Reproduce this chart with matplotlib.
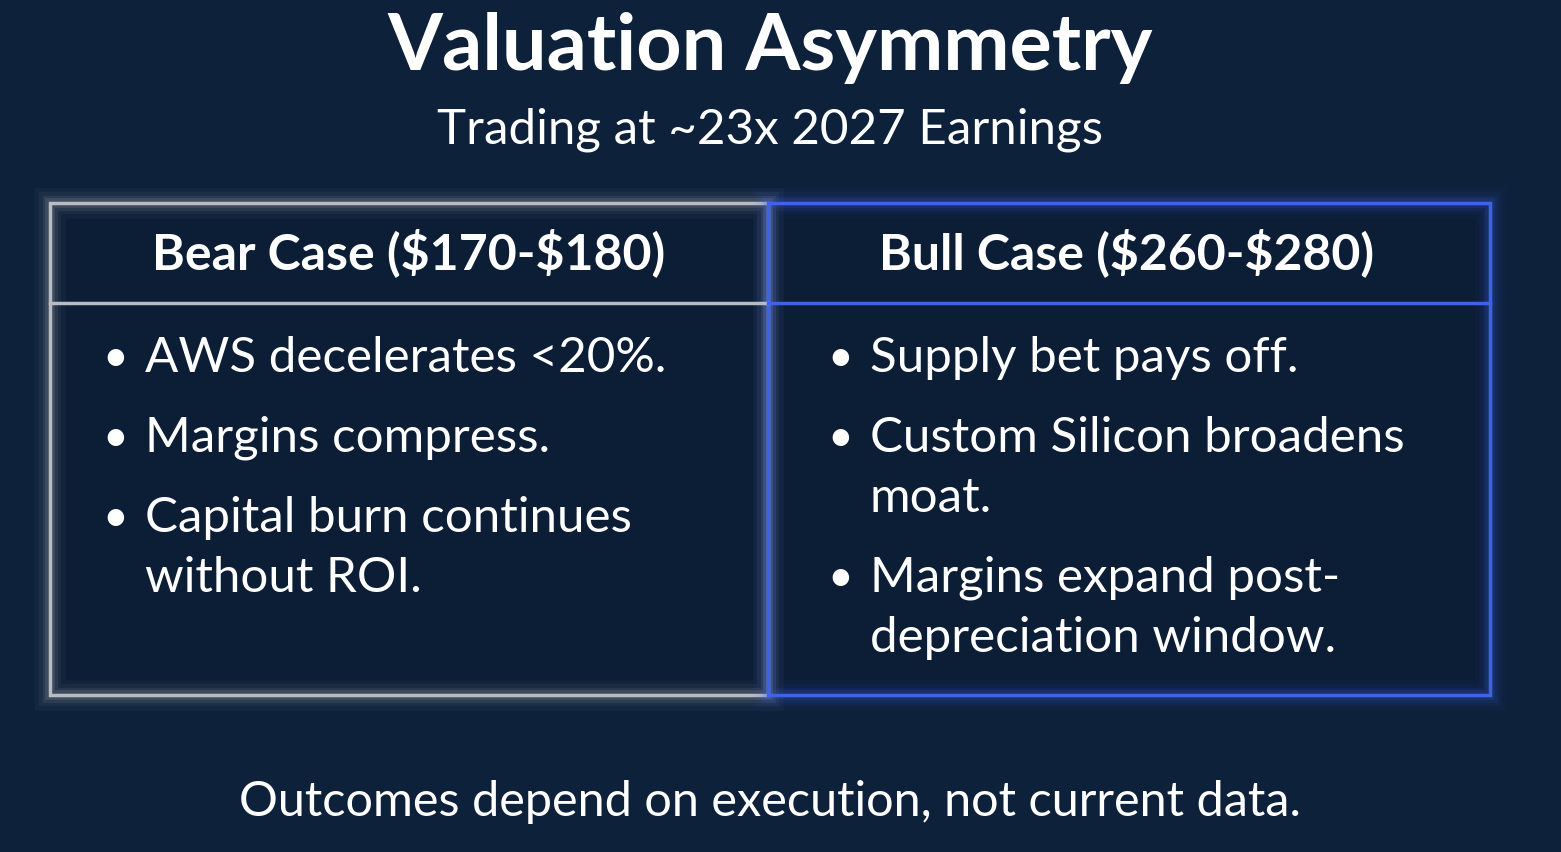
import matplotlib
matplotlib.use("Agg")
import matplotlib.pyplot as plt
from matplotlib.patches import Rectangle

title = "Valuation Asymmetry"
subtitle = "Trading at ~23x 2027 Earnings"
headers = ["Bear Case ($170-$180)", "Bull Case ($260-$280)"]
bear_lines = [("•", "AWS decelerates <20%."), ("•", "Margins compress."),
              ("•", "Capital burn continues"), ("", "without ROI.")]
bull_lines = [("•", "Supply bet pays off."), ("•", "Custom Silicon broadens"),
              ("", "moat."), ("•", "Margins expand post-"), ("", "depreciation window.")]
bear_y = [358, 438, 518, 578]
bull_y = [358, 438, 498, 578, 638]
footer = "Outcomes depend on execution, not current data."

W, H = 1561, 852
fig = plt.figure(figsize=(W/100, H/100), dpi=100)
fig.patch.set_facecolor("#0e213b")
ax = fig.add_axes([0, 0, 1, 1])
ax.set_xlim(0, W); ax.set_ylim(H, 0); ax.axis("off")
ax.set_facecolor("#0e213b")

ax.add_patch(Rectangle((50, 203), 718, 492, facecolor="#0c1d36", edgecolor="none"))
ax.add_patch(Rectangle((768, 203), 722, 492, facecolor="#0c1d36", edgecolor="none"))

def glow_box(x, y, w, h, color, core_lw):
    for lw, a in [(22, 0.04), (16, 0.06), (11, 0.09), (7, 0.14)]:
        ax.add_patch(Rectangle((x, y), w, h, fill=False, edgecolor=color, lw=lw, alpha=a))
    ax.add_patch(Rectangle((x, y), w, h, fill=False, edgecolor=color, lw=core_lw))

glow_box(50, 203, 718, 492, "#b8bcc2", 2.5)
ax.plot([50, 768], [303, 303], color="#b8bcc2", lw=2.5)
glow_box(768, 203, 722, 492, "#3f63e8", 2.5)
ax.plot([768, 1490], [303, 303], color="#3f63e8", lw=2.5)

F = "Lato"
kw = dict(color="white", family=F, parse_math=False)
ax.text(770, 48, title, ha="center", va="center", fontsize=57, fontweight="bold", **kw)
ax.text(770, 130, subtitle, ha="center", va="center", fontsize=35.5, **kw)
ax.text(409, 253, headers[0], ha="center", va="center", fontsize=36, fontweight="bold", **kw)
ax.text(1127, 253, headers[1], ha="center", va="center", fontsize=36, fontweight="bold", **kw)

for (b, t), y in zip(bear_lines, bear_y):
    if b:
        ax.text(115, y, b, ha="center", va="center", fontsize=32, **kw)
    ax.text(145, y, t, ha="left", va="center", fontsize=35.5, **kw)
for (b, t), y in zip(bull_lines, bull_y):
    if b:
        ax.text(840, y, b, ha="center", va="center", fontsize=32, **kw)
    ax.text(870, y, t, ha="left", va="center", fontsize=35.5, **kw)

ax.text(770, 802, footer, ha="center", va="center", fontsize=35, **kw)

fig.savefig("out.png", dpi=100, facecolor=fig.get_facecolor())
